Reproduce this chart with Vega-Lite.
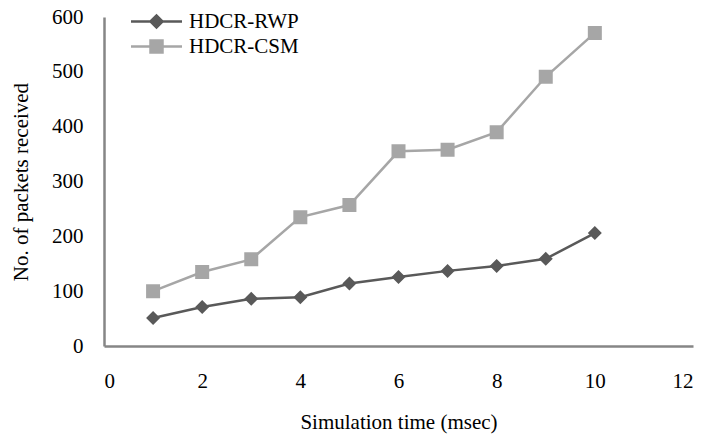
{
  "$schema": "https://vega.github.io/schema/vega-lite/v6.json",
  "width": 589,
  "height": 329,
  "autosize": {"type": "none"},
  "padding": {"left": 104, "top": 17, "right": 14, "bottom": 93},
  "background": "white",
  "config": {
    "view": {"stroke": null},
    "font": "Liberation Serif",
    "axis": {
      "grid": false,
      "ticks": false,
      "domainColor": "#868686",
      "domainWidth": 2.5,
      "labelFont": "Liberation Serif",
      "labelFontSize": 21,
      "labelColor": "#000000",
      "titleFont": "Liberation Serif",
      "titleFontSize": 21,
      "titleFontWeight": "normal",
      "titleColor": "#000000"
    },
    "legend": {
      "labelFont": "Liberation Serif",
      "labelFontSize": 21,
      "labelColor": "#000000"
    }
  },
  "data": {
    "values": [
      {"time": 1, "packets": 51, "series": "HDCR-RWP"},
      {"time": 2, "packets": 71, "series": "HDCR-RWP"},
      {"time": 3, "packets": 86, "series": "HDCR-RWP"},
      {"time": 4, "packets": 89, "series": "HDCR-RWP"},
      {"time": 5, "packets": 114, "series": "HDCR-RWP"},
      {"time": 6, "packets": 126, "series": "HDCR-RWP"},
      {"time": 7, "packets": 137, "series": "HDCR-RWP"},
      {"time": 8, "packets": 146, "series": "HDCR-RWP"},
      {"time": 9, "packets": 159, "series": "HDCR-RWP"},
      {"time": 10, "packets": 206, "series": "HDCR-RWP"},
      {"time": 1, "packets": 100, "series": "HDCR-CSM"},
      {"time": 2, "packets": 135, "series": "HDCR-CSM"},
      {"time": 3, "packets": 158, "series": "HDCR-CSM"},
      {"time": 4, "packets": 235, "series": "HDCR-CSM"},
      {"time": 5, "packets": 257, "series": "HDCR-CSM"},
      {"time": 6, "packets": 355, "series": "HDCR-CSM"},
      {"time": 7, "packets": 358, "series": "HDCR-CSM"},
      {"time": 8, "packets": 390, "series": "HDCR-CSM"},
      {"time": 9, "packets": 491, "series": "HDCR-CSM"},
      {"time": 10, "packets": 571, "series": "HDCR-CSM"}
    ]
  },
  "encoding": {
    "x": {
      "field": "time",
      "type": "quantitative",
      "scale": {"domain": [0, 12], "nice": false},
      "axis": {
        "values": [0, 2, 4, 6, 8, 10, 12],
        "title": "Simulation time (msec)",
        "labelPadding": 24,
        "titlePadding": 20
      }
    },
    "y": {
      "field": "packets",
      "type": "quantitative",
      "scale": {"domain": [0, 600], "nice": false},
      "axis": {
        "values": [0, 100, 200, 300, 400, 500, 600],
        "title": "No. of packets received",
        "labelPadding": 21,
        "titlePadding": 20
      }
    },
    "color": {
      "field": "series",
      "type": "nominal",
      "scale": {"domain": ["HDCR-RWP", "HDCR-CSM"], "range": ["#595959", "#a6a6a6"]},
      "legend": {
        "title": null,
        "orient": "none",
        "legendX": 42,
        "legendY": -6,
        "symbolSize": 144,
        "labelOffset": 22,
        "rowPadding": 2,
        "encode": {
          "symbols": {"update": {"stroke": {"scale": "color", "field": "value"}, "strokeWidth": {"value": 2.5}}}
        }
      }
    }
  },
  "layer": [
    {
      "mark": {"type": "line", "strokeWidth": 2.5}
    },
    {
      "mark": {"type": "point", "filled": true, "size": 196, "opacity": 1, "strokeWidth": 0},
      "encoding": {
        "shape": {
          "field": "series",
          "type": "nominal",
          "scale": {
            "domain": ["HDCR-RWP", "HDCR-CSM"],
            "range": ["M-4.25,0H4.25M-1,0L0,-1L1,0L0,1Z", "M-4.25,0H4.25M-1,-1H1V1H-1Z"]
          },
          "legend": {
            "title": null,
            "orient": "none",
            "legendX": 42,
            "legendY": -6,
            "symbolSize": 144,
            "labelOffset": 22,
            "rowPadding": 2,
            "encode": {
              "symbols": {"update": {"stroke": {"scale": "color", "field": "value"}, "strokeWidth": {"value": 2.5}}}
            }
          }
        }
      }
    }
  ]
}
